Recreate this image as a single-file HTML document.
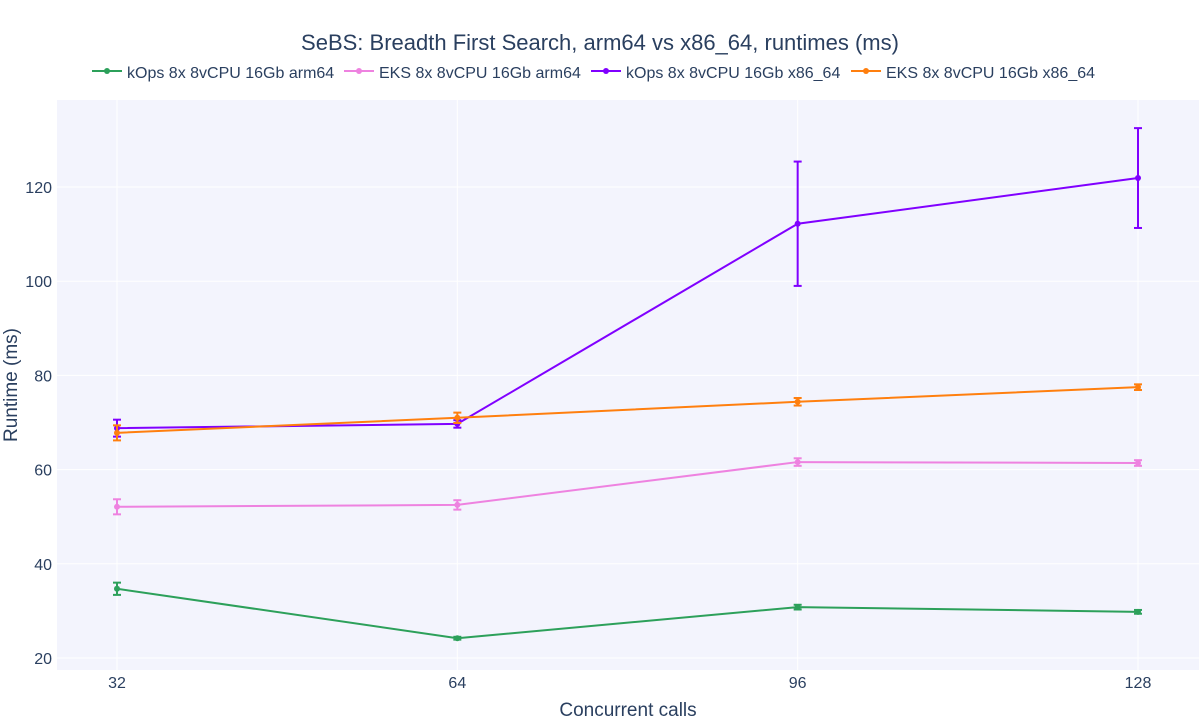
<!DOCTYPE html>
<html><head><meta charset="utf-8"><style>
body{margin:0;background:#fff;font-family:"Liberation Sans",sans-serif;}
svg text{font-family:"Liberation Sans",sans-serif;fill:#2a3f5f;}
</style></head><body>
<svg id="chart" width="1200" height="720">
<rect x="57" y="100" width="1142" height="570" fill="#f3f4fd"/>
<g id="grid"></g><g id="series"></g><g id="axes"></g>
<text x="600" y="50" text-anchor="middle" font-size="22">SeBS: Breadth First Search, arm64 vs x86_64, runtimes (ms)</text>
<text x="628" y="716" text-anchor="middle" font-size="19">Concurrent calls</text>
<text x="17" y="385" text-anchor="middle" font-size="19" transform="rotate(-90 17 385)">Runtime (ms)</text>
<g id="legend"></g>
</svg>
<script>
const categories=[32,64,96,128];
const seriesNames=["kOps 8x 8vCPU 16Gb arm64","EKS 8x 8vCPU 16Gb arm64","kOps 8x 8vCPU 16Gb x86_64","EKS 8x 8vCPU 16Gb x86_64"];
const seriesColors=["#2ca05a","#ee82e0","#8000ff","#ff7f0e"];
const kopsArm=[34.7,24.2,30.8,29.8];
const kopsArmErr=[1.3,0.3,0.5,0.4];
const eksArm=[52.1,52.5,61.6,61.4];
const eksArmErr=[1.6,1.0,0.8,0.6];
const kopsX86=[68.8,69.7,112.2,121.9];
const kopsX86Err=[1.8,0.8,13.2,10.6];
const eksX86=[67.8,71.0,74.4,77.5];
const eksX86Err=[1.6,1.1,0.8,0.6];
const yTicks=[20,40,60,80,100,120];
const xTicks=[32,64,96,128];
const NS="http://www.w3.org/2000/svg";
function X(v){return 117+(v-32)*(1138-117)/96;}
function Y(v){return 658-(v-20)*(658-187)/100;}
function mk(t,a,p){const e=document.createElementNS(NS,t);for(const k in a)e.setAttribute(k,a[k]);p.appendChild(e);return e;}
const grid=document.getElementById('grid'),axes=document.getElementById('axes');
yTicks.forEach(v=>{const l=mk('line',{x1:57,x2:1199,y1:Y(v),y2:Y(v),stroke:'#fff','stroke-width':1},grid);


const t=mk('text',{x:56-4,y:Y(v)+6,'text-anchor':'end','font-size':16},axes);t.textContent=v;

});
xTicks.forEach(v=>{const l=mk('line',{x1:X(v),x2:X(v),y1:100,y2:670,stroke:'#fff','stroke-width':1},grid);


const t=mk('text',{x:X(v),y:688,'text-anchor':'middle','font-size':16},axes);t.textContent=v;

});
const data=[[kopsArm,kopsArmErr],[eksArm,eksArmErr],[kopsX86,kopsX86Err],[eksX86,eksX86Err]];
const sg=document.getElementById('series');
data.forEach((d,i)=>{const c=seriesColors[i];const g=mk('g',{},sg);


d[0].forEach((v,j)=>{const x=X(categories[j]),t=Y(v+d[1][j]),b=Y(v-d[1][j]);
mk('line',{x1:x,x2:x,y1:t,y2:b,stroke:c,'stroke-width':2},g);
mk('line',{x1:x-4,x2:x+4,y1:t,y2:t,stroke:c,'stroke-width':2},g);
mk('line',{x1:x-4,x2:x+4,y1:b,y2:b,stroke:c,'stroke-width':2},g);});
mk('polyline',{points:d[0].map((v,j)=>X(categories[j])+','+Y(v)).join(' '),fill:'none',stroke:c,'stroke-width':2},g);
d[0].forEach((v,j)=>{const p=mk('circle',{cx:X(categories[j]),cy:Y(v),r:3,fill:c},g);

});});
const lg=document.getElementById('legend');const lx=[92,344,591,851];
seriesNames.forEach((n,i)=>{const g=mk('g',{},lg);


mk('line',{x1:lx[i],x2:lx[i]+30,y1:71,y2:71,stroke:seriesColors[i],'stroke-width':2},g);
mk('circle',{cx:lx[i]+15,cy:71,r:3,fill:seriesColors[i]},g);
const t=mk('text',{x:lx[i]+35,y:78,'font-size':16},g);t.textContent=n;});
</script>
</body></html>
